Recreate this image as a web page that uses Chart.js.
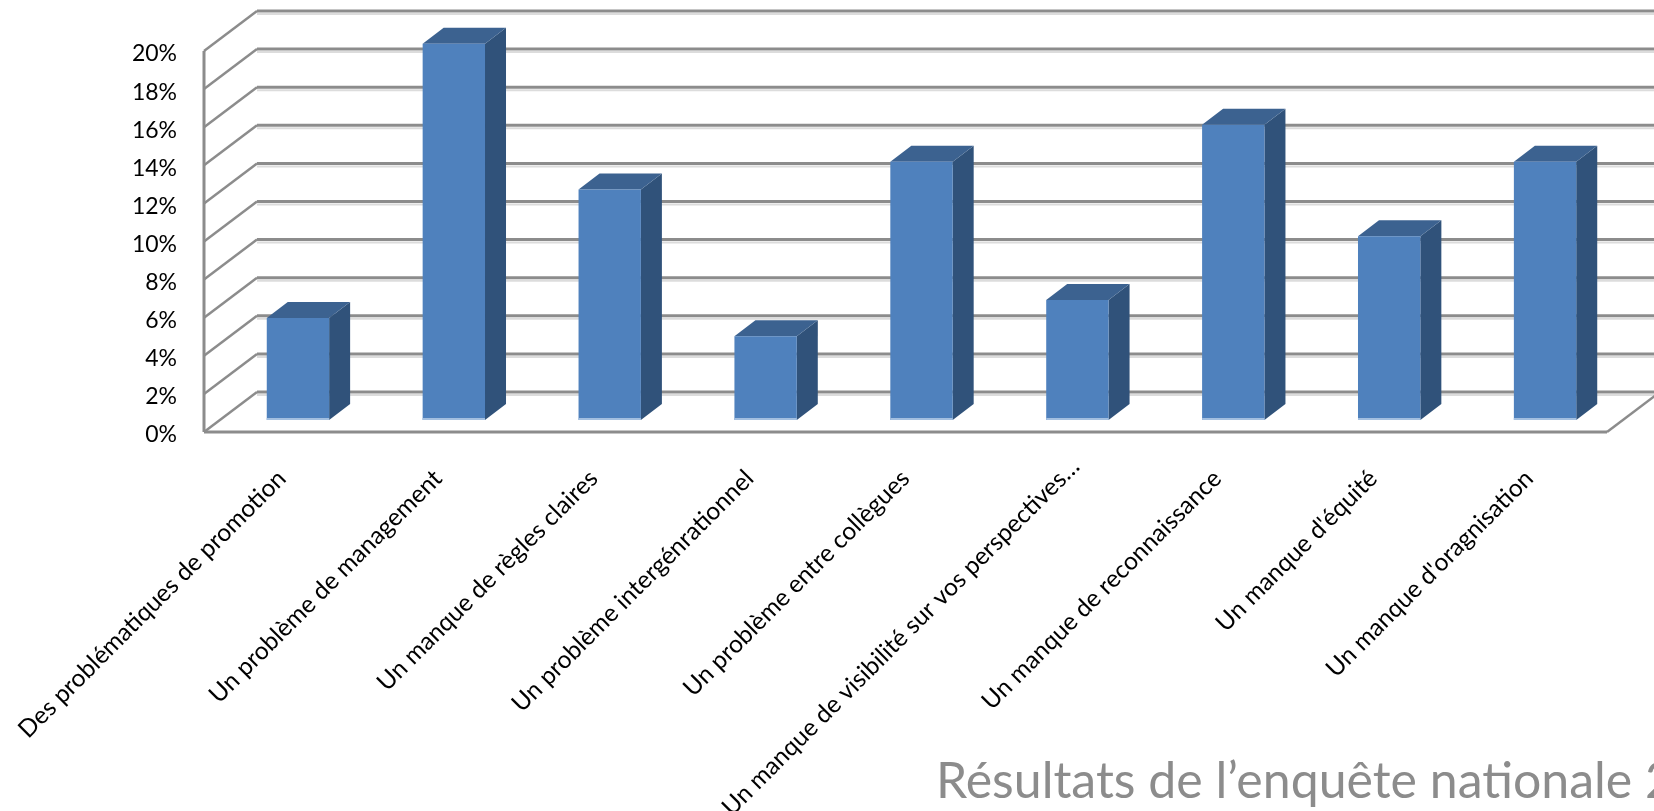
<!DOCTYPE html>
<html>
<head>
<meta charset="utf-8">
<title>Résultats de l'enquête nationale</title>
<script src="https://cdn.jsdelivr.net/npm/chart.js@4/dist/chart.umd.min.js"></script>
<style>
  html, body { margin:0; padding:0; background:#fff; overflow:hidden; }
  #wrap { position:relative; width:1654px; height:811px; }
</style>
</head>
<body>
<div id="wrap"><canvas id="grafico" width="1654" height="811"></canvas></div>
<script>
const categories = [
  "Des problématiques de promotion",
  "Un problème de management",
  "Un manque de règles claires",
  "Un problème intergénrationnel",
  "Un problème entre collègues",
  "Un manque de visibilité sur vos perspectives…",
  "Un manque de reconnaissance",
  "Un manque d'équité",
  "Un manque d'oragnisation"
];
const values = [5.35, 19.75, 12.1, 4.4, 13.55, 6.3, 15.5, 9.65, 13.55];
const backLevels = [0, 2, 4, 6, 8, 10, 12, 14, 16, 18, 20];
const titre = "Résultats de l’enquête nationale 2";

const C = { grid:'#8c8c8c', shadow:'#dcdcdc', front:'#4f81bd', side:'#30527a', top:'#3c6290', edge:'#a3bfe0', text:'#000' };

// décalages de la fausse 3D
const WALL = { dx:53, dy:-40 };
const BAR  = { dx:16, dy:-12 };
const DEPTH = { dx:21, dy:-16 };

function line(ctx, x1, y1, x2, y2, color, w) {
  ctx.strokeStyle = color; ctx.lineWidth = w;
  ctx.beginPath(); ctx.moveTo(x1,y1); ctx.lineTo(x2,y2); ctx.stroke();
}
function poly(ctx, pts, color) {
  ctx.fillStyle = color;
  ctx.beginPath();
  pts.forEach((p,i) => i ? ctx.lineTo(p[0],p[1]) : ctx.moveTo(p[0],p[1]));
  ctx.closePath(); ctx.fill();
}

const faux3d = {
  id:'faux3d',
  beforeDraw(chart) {
    // le libellé tronqué est placé plus haut et plus à droite dans l'original
    const t = chart.scales.x.getLabelItems()[5].options.translation;
    t[0] += 14; t[1] -= 12;
  },
  beforeDatasetsDraw(chart) {
    const { ctx, chartArea:a, scales:{ y } } = chart;
    ctx.save();
    backLevels.forEach(v => {
      const py = y.getPixelForValue(v);
      line(ctx, a.left+WALL.dx, py+WALL.dy+3, chart.width, py+WALL.dy+3, C.shadow, 2);
      line(ctx, a.left+WALL.dx, py+WALL.dy, chart.width, py+WALL.dy, C.grid, 3);
      line(ctx, a.left, py, a.left+WALL.dx, py+WALL.dy, C.grid, 2.5);
    });
    // sol et axes
    line(ctx, a.right, a.bottom, a.right+WALL.dx, a.bottom+WALL.dy, C.grid, 2.5);
    line(ctx, a.left, a.bottom, a.right, a.bottom, C.grid, 3);
    line(ctx, a.left, a.top, a.left, a.bottom, C.grid, 3);
    ctx.restore();

    // faces de chaque barre, derrière la face avant
    ctx.save();
    ctx.translate(BAR.dx, BAR.dy);
    chart.getDatasetMeta(0).data.forEach(b => {
      const l = b.x-b.width/2, r = b.x+b.width/2, d = DEPTH;
      poly(ctx, [[r,b.y],[r+d.dx,b.y+d.dy],[r+d.dx,b.base+d.dy],[r,b.base]], C.side);
      poly(ctx, [[l,b.y],[l+d.dx,b.y+d.dy],[r+d.dx,b.y+d.dy],[r,b.y]], C.top);
    });
    ctx.restore();

    ctx.save();
    ctx.translate(BAR.dx, BAR.dy);
  },
  afterDatasetsDraw(chart) {
    const ctx = chart.ctx;
    chart.getDatasetMeta(0).data.forEach(b => {
      line(ctx, b.x-b.width/2, b.base-1, b.x+b.width/2, b.base-1, C.edge, 2);
    });
    ctx.restore();
    // titre coupé par le bord droit, comme sur la diapo
    ctx.save();
    ctx.font = "400 50px Lato";
    ctx.fillStyle = "#8c8c8c";
    ctx.textBaseline = "alphabetic";
    ctx.fillText(titre, 936, 798);
    ctx.restore();
  }
};

new Chart(document.getElementById("grafico"), {
  type:"bar",
  data:{ labels:categories, datasets:[{
    data:values, backgroundColor:C.front, borderWidth:0,
    barPercentage:.4, categoryPercentage:1
  }]},
  options:{
    responsive:false, animation:false,
    layout:{ padding:{ top:51, right:47, left:0, bottom:0 } },
    plugins:{ legend:{display:false}, tooltip:{enabled:false}, title:{display:false} },
    scales:{
      x:{
        grid:{display:false}, border:{display:false},
        ticks:{ minRotation:45, maxRotation:45, autoSkip:false, padding:24, color:C.text, font:{size:24.5,family:"Lato"} },
        afterFit:s => { s.height = 379; s.paddingLeft = 0; s.paddingRight = 0; }
      },
      y:{
        min:0, max:20,
        grid:{display:false}, border:{display:false},
        ticks:{ stepSize:2, padding:19, labelOffset:3, color:C.text, font:{size:23,family:"Lato"}, callback:v => v+"%" },
        afterFit:s => { s.width = 204; }
      }
    }
  },
  plugins:[faux3d]
});
</script>
</body>
</html>
